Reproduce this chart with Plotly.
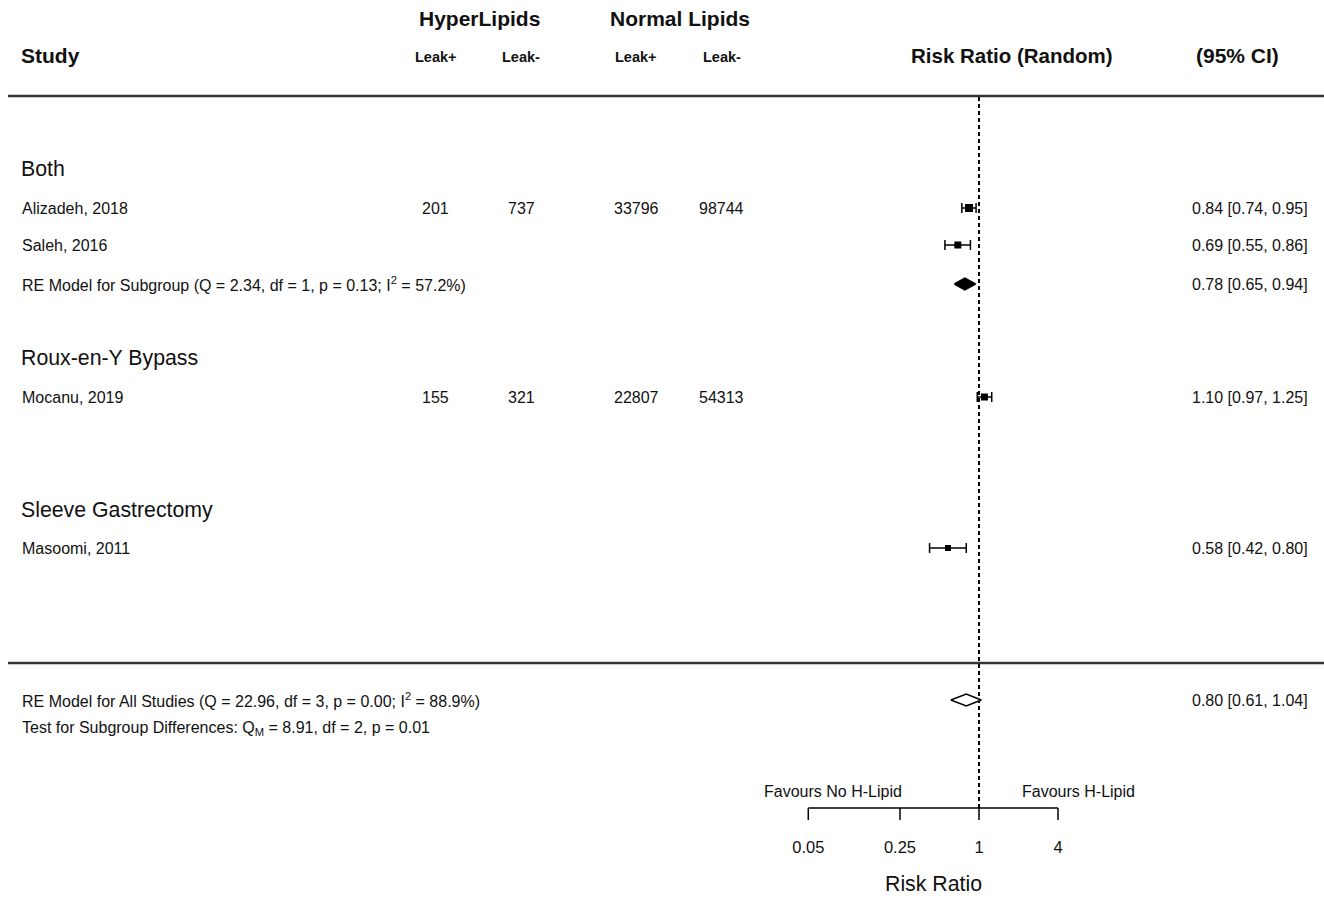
import math
import plotly.graph_objects as go

# ---- data -------------------------------------------------------------
studies = ["Alizadeh, 2018", "Saleh, 2016", "Mocanu, 2019", "Masoomi, 2011"]
hyper_leak_pos = ["201", "", "155", ""]
hyper_leak_neg = ["737", "", "321", ""]
normal_leak_pos = ["33796", "", "22807", ""]
normal_leak_neg = ["98744", "", "54313", ""]
rr = [0.84, 0.69, 1.10, 0.58]
rr_lo = [0.74, 0.55, 0.97, 0.42]
rr_hi = [0.95, 0.86, 1.25, 0.80]

subgroups = ["Both", "Roux-en-Y Bypass", "Sleeve Gastrectomy"]
both_pooled = (0.78, 0.65, 0.94)
overall_pooled = (0.80, 0.61, 1.04)

sub_label = "RE Model for Subgroup (Q = 2.34, df = 1, p = 0.13; I<sup>2</sup> = 57.2%)"
all_label = "RE Model for All Studies (Q = 22.96, df = 3, p = 0.00; I<sup>2</sup> = 88.9%)"
test_label = "Test for Subgroup Differences: Q<sub>M</sub> = 8.91, df = 2, p = 0.01"

axis_ticks = [0.05, 0.25, 1, 4]
axis_tick_labels = ["0.05", "0.25", "1", "4"]

# ---- layout geometry (pixels) -----------------------------------------
W, H = 1324, 898
row_y = {"Both": 169, "Alizadeh, 2018": 208, "Saleh, 2016": 245, "sub": 284,
         "Roux-en-Y Bypass": 358, "Mocanu, 2019": 397,
         "Sleeve Gastrectomy": 510, "Masoomi, 2011": 548,
         "all": 700, "test": 728}
col_x = {"study": 21, "hp": 436, "hn": 521, "np": 636, "nn": 722, "ci": 1310}
marker_px = [8, 7, 7, 6]
axis_line_y, tick_end_y = 808, 820
ref_top_y = 97
diamond_half = 6
BODY = 16

# log-scale x axis: 1 sits at x=979, 39.5 px per doubling
px_per_dec = 39.5 / math.log10(2)
x_range = [-979 / px_per_dec, (W - 979) / px_per_dec]

FONT = "Liberation Sans, Arial, Helvetica, sans-serif"
INK = "#111111"

fig = go.Figure()

# reference line at RR = 1
fig.add_trace(go.Scatter(x=[1, 1], y=[ref_top_y, axis_line_y], mode="lines",
                         line=dict(color="black", width=2, dash="4px,3px"),
                         hoverinfo="skip"))

# study estimates with confidence intervals
for i, s in enumerate(studies):
    fig.add_trace(go.Scatter(
        x=[rr[i]], y=[row_y[s]], mode="markers",
        marker=dict(symbol="square", size=marker_px[i], color="black"),
        error_x=dict(type="data", symmetric=False,
                     array=[rr_hi[i] - rr[i]], arrayminus=[rr[i] - rr_lo[i]],
                     color="black", thickness=1.5, width=5),
        hoverinfo="skip"))


def diamond(est, lo, hi, yc, filled):
    fig.add_trace(go.Scatter(
        x=[lo, est, hi, est, lo],
        y=[yc, yc - diamond_half, yc, yc + diamond_half, yc],
        mode="lines", fill="toself",
        fillcolor="black" if filled else "white",
        line=dict(color="black", width=1.5), hoverinfo="skip"))


diamond(*both_pooled, row_y["sub"], True)
diamond(*overall_pooled, row_y["all"], False)

# bottom axis bracket
fig.add_trace(go.Scatter(x=[axis_ticks[0], axis_ticks[-1]], y=[axis_line_y, axis_line_y],
                         mode="lines", line=dict(color="black", width=1.5),
                         hoverinfo="skip"))
for t in axis_ticks:
    fig.add_trace(go.Scatter(x=[t, t], y=[axis_line_y, tick_end_y], mode="lines",
                             line=dict(color="black", width=1.5), hoverinfo="skip"))
fig.add_trace(go.Scatter(x=axis_ticks, y=[849] * len(axis_ticks), mode="text",
                         text=axis_tick_labels,
                         textfont=dict(family=FONT, size=16.5, color=INK),
                         hoverinfo="skip"))

ann = []


def txt(text, xpx, ypx, size, anchor="left", bold=False):
    if not text:
        return
    ann.append(dict(text=f"<b>{text}</b>" if bold else text,
                    x=xpx / W, xref="paper", y=ypx, yref="y",
                    xanchor=anchor, yanchor="middle", showarrow=False,
                    font=dict(family=FONT, size=size, color=INK)))


# headers
txt("HyperLipids", 479, 18, 21, "center", True)
txt("Normal Lipids", 680, 18, 21, "center", True)
txt("Study", 19, 55, 21, "left", True)
for key, lab in [("hp", "Leak+"), ("hn", "Leak-"), ("np", "Leak+"), ("nn", "Leak-")]:
    txt(lab, col_x[key], 57, 14.5, "center", True)
txt("Risk Ratio (Random)", 1012, 55, 20.5, "center", True)
txt("(95% CI)", 1237, 55, 21, "center", True)

# subgroup headings
for g in subgroups:
    txt(g, 19, row_y[g], 21.3)

# study rows
for i, s in enumerate(studies):
    y = row_y[s]
    txt(s, col_x["study"] - 1, y, BODY)
    txt(hyper_leak_pos[i], col_x["hp"], y, BODY, "center")
    txt(hyper_leak_neg[i], col_x["hn"], y, BODY, "center")
    txt(normal_leak_pos[i], col_x["np"], y, BODY, "center")
    txt(normal_leak_neg[i], col_x["nn"], y, BODY, "center")
    txt(f"{rr[i]:.2f} [{rr_lo[i]:.2f}, {rr_hi[i]:.2f}]", col_x["ci"], y, BODY, "right")

txt(sub_label, col_x["study"] - 1, row_y["sub"], BODY)
txt("{:.2f} [{:.2f}, {:.2f}]".format(*both_pooled), col_x["ci"], row_y["sub"], BODY, "right")
txt(all_label, col_x["study"] - 1, row_y["all"], BODY)
txt("{:.2f} [{:.2f}, {:.2f}]".format(*overall_pooled), col_x["ci"], row_y["all"], BODY, "right")
txt(test_label, col_x["study"] - 1, row_y["test"], BODY)

# axis captions
txt("Favours No H-Lipid", 833, 791, BODY, "center")
txt("Favours H-Lipid", 1078, 791, BODY, "center")
txt("Risk Ratio", 933, 884, 21.3, "center")

shapes = [
    dict(type="line", xref="paper", yref="y", x0=8 / W, x1=1, y0=96, y1=96,
         line=dict(color="#333333", width=2.4)),
    dict(type="line", xref="paper", yref="y", x0=8 / W, x1=1, y0=663, y1=663,
         line=dict(color="#333333", width=2.4)),
]

fig.update_layout(
    width=W, height=H, margin=dict(l=0, r=0, t=0, b=0),
    paper_bgcolor="white", plot_bgcolor="white", showlegend=False,
    xaxis=dict(type="log", range=x_range, visible=False, fixedrange=True),
    yaxis=dict(range=[H, 0], visible=False, fixedrange=True),
    annotations=ann, shapes=shapes,
)

fig.write_html("out.html")
